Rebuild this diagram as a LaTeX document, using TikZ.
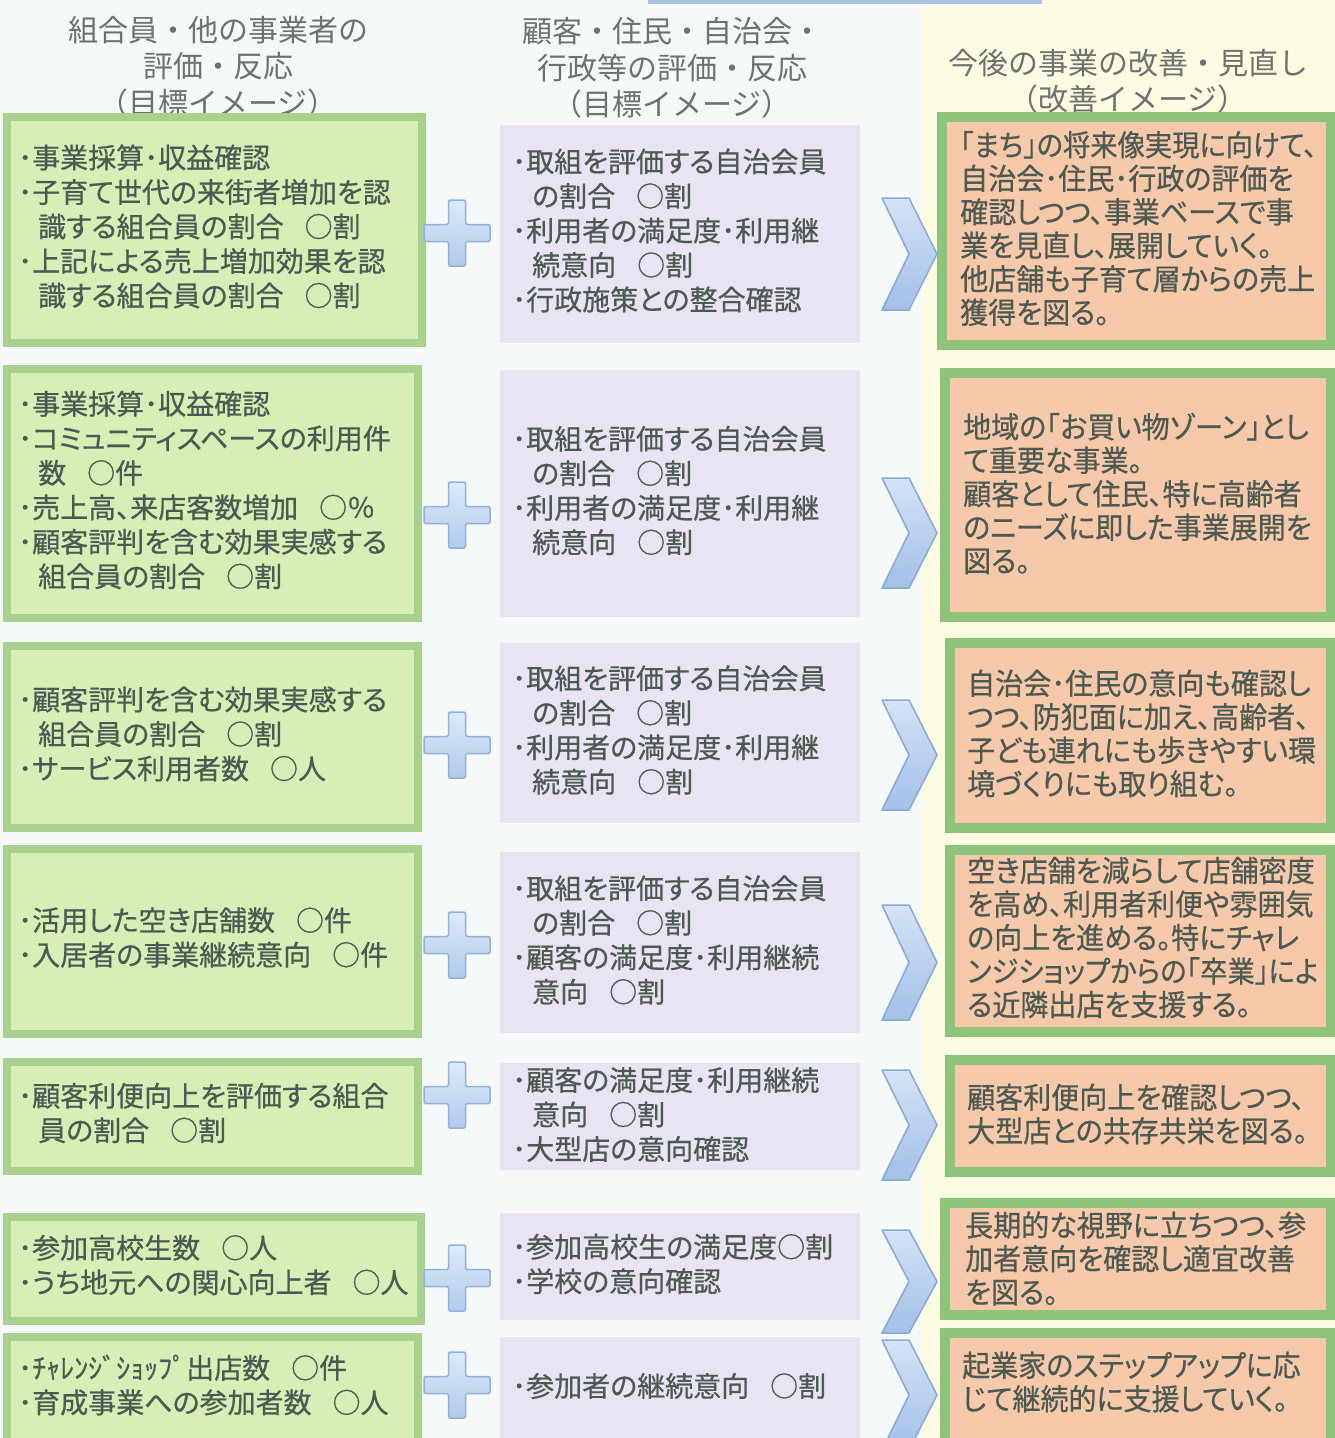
\documentclass[tikz,border=0pt]{standalone}
\usepackage{fontspec}
\setmainfont{Noto Sans CJK JP}
\newfontfamily\jpbox[RawFeature=+palt,FakeBold=0.6]{Noto Sans CJK JP}
\newfontfamily\jpnarrow[RawFeature=+palt,FakeStretch=0.95,FakeBold=0.6]{Noto Sans CJK JP}
\newfontfamily\jpnarrowtight[RawFeature=+palt,FakeStretch=0.925,FakeBold=0.6]{Noto Sans CJK JP}
\newfontfamily\jptitle{Noto Sans CJK JP}
\definecolor{bgleft}{HTML}{F6F9FA}
\definecolor{bgright}{HTML}{FEFCE3}
\definecolor{gfill}{HTML}{D9EDB6}
\definecolor{gborder}{HTML}{A9D18E}
\definecolor{lavfill}{HTML}{E9E4F3}
\definecolor{sfill}{HTML}{F5C9A9}
\definecolor{sborder}{HTML}{8DC47A}
\definecolor{txtc}{HTML}{4D5953}
\definecolor{ttlc}{HTML}{6E726F}
\definecolor{plustop}{HTML}{DDEAF8}
\definecolor{plusbot}{HTML}{B2CBEC}
\definecolor{plusline}{HTML}{92B1DB}
\definecolor{chevtop}{HTML}{D4E3F6}
\definecolor{chevbot}{HTML}{A3C0E8}
\definecolor{chevline}{HTML}{86A9D6}
\definecolor{topstrip}{HTML}{A9C1E2}
\newcommand{\indentline}{\hspace*{20pt}}
\newcommand{\sgap}{\hspace{0.75em}}
\begin{document}
\begin{tikzpicture}[x=1pt,y=-1pt,
  greenbox/.style={draw=gborder,fill=gfill,line width=8pt},
  lavbox/.style={fill=lavfill},
  salbox/.style={draw=sborder,fill=sfill,line width=10pt},
  boxtext/.style={anchor=west,align=left,text=txtc,inner sep=0pt,
    font=\jpbox\fontsize{28}{34.5}\selectfont},
  righttext/.style={anchor=west,align=left,text=txtc,inner sep=0pt,
    font=\jpnarrow\fontsize{29.5}{33.5}\selectfont},
  titletext/.style={align=center,text=ttlc,inner sep=0pt,
    font=\jptitle\fontsize{30}{36.5}\selectfont},
  plusshape/.style={top color=plustop,bottom color=plusbot,draw=plusline,line width=1.5pt,rounded corners=1.5pt},
  chevshape/.style={top color=chevtop,bottom color=chevbot,draw=chevline,line width=1.5pt,line join=round}
]
\useasboundingbox (0,0) rectangle (1335,1438);
\clip (0,0) rectangle (1335,1438);
% backgrounds
\fill[bgleft] (0,0) rectangle (922,1438);
\fill[bgright] (922,0) rectangle (1335,1438);
\fill[topstrip] (648,0) rectangle (1042,4);

% titles
\node[titletext] (hl) at (218,66.5) {組合員・他の事業者の\\評価・反応\\（目標イメージ）};
\node[titletext] (hm) at (672,68) {顧客・住民・自治会・\\行政等の評価・反応\\（目標イメージ）};
\node[titletext] (hr) at (1128,81.5) {今後の事業の改善・見直し\\（改善イメージ）};

% left green boxes
\draw[greenbox] (7,117) rectangle (422,343);
\draw[greenbox] (7,369) rectangle (418,618);
\draw[greenbox] (7,646) rectangle (418,828);
\draw[greenbox] (7,849) rectangle (418,1034);
\draw[greenbox] (7,1062) rectangle (418,1171);
\draw[greenbox] (7,1217) rectangle (421,1321);
\draw[greenbox] (7,1337) rectangle (418,1445);

% middle lavender boxes
\fill[lavbox] (500,125) rectangle (860,343);
\fill[lavbox] (500,370) rectangle (860,617);
\fill[lavbox] (500,643) rectangle (860,823);
\fill[lavbox] (500,852) rectangle (860,1033);
\fill[lavbox] (500,1063) rectangle (860,1170);
\fill[lavbox] (500,1213) rectangle (860,1320);
\fill[lavbox] (500,1337) rectangle (860,1445);

% right salmon boxes
\draw[salbox] (942,117) rectangle (1331,345);
\draw[salbox] (945,373) rectangle (1331,617);
\draw[salbox] (950,643) rectangle (1331,828);
\draw[salbox] (950,850) rectangle (1331,1032);
\draw[salbox] (950,1060) rectangle (1331,1172);
\draw[salbox] (945,1203) rectangle (1331,1315);
\draw[salbox] (945,1333) rectangle (1331,1445);

% plus signs
\foreach \py in {233,515,745,945,1095,1278,1385}{
  \path[plusshape,shift={(457,\py)}]
    (-33,-8.5) -- (-8.5,-8.5) -- (-8.5,-33) -- (8.5,-33) -- (8.5,-8.5) -- (33,-8.5)
    -- (33,8.5) -- (8.5,8.5) -- (8.5,33) -- (-8.5,33) -- (-8.5,8.5) -- (-33,8.5) -- cycle;
}
% chevrons
\foreach \ct/\cb in {198/310,478/588,700/810,905/1020,1070/1180,1230/1333,1340/1450}{
  \pgfmathsetmacro{\cm}{(\ct+\cb)/2}
  \path[chevshape] (882,\ct) -- (909,\ct) -- (937,\cm) -- (909,\cb) -- (882,\cb) -- (909,\cm) -- cycle;
}

% left texts
\node[boxtext] (t1) at (18,226.5) {･事業採算･収益確認\\･子育て世代の来街者増加を認\\\indentline 識する組合員の割合\sgap○割\\･上記による売上増加効果を認\\\indentline 識する組合員の割合\sgap○割};
\node[boxtext] (t2) at (18,490) {･事業採算･収益確認\\･コミュニティスペースの利用件\\\indentline 数\sgap○件\\･売上高、来店客数増加\sgap○％\\･顧客評判を含む効果実感する\\\indentline 組合員の割合\sgap○割};
\node[boxtext] (t3) at (18,734) {･顧客評判を含む効果実感する\\\indentline 組合員の割合\sgap○割\\･サービス利用者数\sgap○人};
\node[boxtext] (t4) at (18,937.5) {･活用した空き店舗数\sgap○件\\･入居者の事業継続意向\sgap○件};
\node[boxtext] (t5) at (18,1113) {･顧客利便向上を評価する組合\\\indentline 員の割合\sgap○割};
\node[boxtext] (t6) at (18,1265) {･参加高校生数\sgap○人\\･うち地元への関心向上者\sgap○人};
\node[boxtext] (t7) at (18,1385) {･ﾁｬﾚﾝｼﾞｼｮｯﾌﾟ出店数\sgap○件\\･育成事業への参加者数\sgap○人};

% middle texts
\node[boxtext] (m1) at (512,230.5) {･取組を評価する自治会員\\\indentline の割合\sgap○割\\･利用者の満足度･利用継\\\indentline 続意向\sgap○割\\･行政施策との整合確認};
\node[boxtext] (m2) at (512,490.5) {･取組を評価する自治会員\\\indentline の割合\sgap○割\\･利用者の満足度･利用継\\\indentline 続意向\sgap○割};
\node[boxtext] (m3) at (512,730) {･取組を評価する自治会員\\\indentline の割合\sgap○割\\･利用者の満足度･利用継\\\indentline 続意向\sgap○割};
\node[boxtext] (m4) at (512,940) {･取組を評価する自治会員\\\indentline の割合\sgap○割\\･顧客の満足度･利用継続\\\indentline 意向\sgap○割};
\node[boxtext] (m5) at (512,1114.5) {･顧客の満足度･利用継続\\\indentline 意向\sgap○割\\･大型店の意向確認};
\node[boxtext] (m6) at (512,1264) {･参加高校生の満足度○割\\･学校の意向確認};
\node[boxtext] (m7) at (512,1386) {･参加者の継続意向\sgap○割};

% right texts
\node[righttext] (r1) at (960,228.5) {{\jpnarrowtight ｢まち｣の将来像実現に向けて、}\\自治会･住民･行政の評価を\\確認しつつ、事業ベースで事\\業を見直し、展開していく。\\他店舗も子育て層からの売上\\獲得を図る。};
\node[righttext] (r2) at (963,493.5) {地域の｢お買い物ゾーン｣とし\\て重要な事業。\\顧客として住民、特に高齢者\\のニーズに即した事業展開を\\図る。};
\node[righttext] (r3) at (967,733.5) {自治会･住民の意向も確認し\\つつ、防犯面に加え、高齢者、\\子ども連れにも歩きやすい環\\境づくりにも取り組む。};
\node[righttext] (r4) at (967,937.5) {空き店舗を減らして店舗密度\\を高め、利用者利便や雰囲気\\の向上を進める。特にチャレ\\{\jpnarrowtight ンジショップからの｢卒業｣によ}\\る近隣出店を支援する。};
\node[righttext] (r5) at (967,1114) {顧客利便向上を確認しつつ、\\大型店との共存共栄を図る。};
\node[righttext] (r6) at (965,1258.5) {長期的な視野に立ちつつ、参\\加者意向を確認し適宜改善\\を図る。};
\node[righttext] (r7) at (962,1382) {起業家のステップアップに応\\じて継続的に支援していく。};
\end{tikzpicture}
\end{document}
